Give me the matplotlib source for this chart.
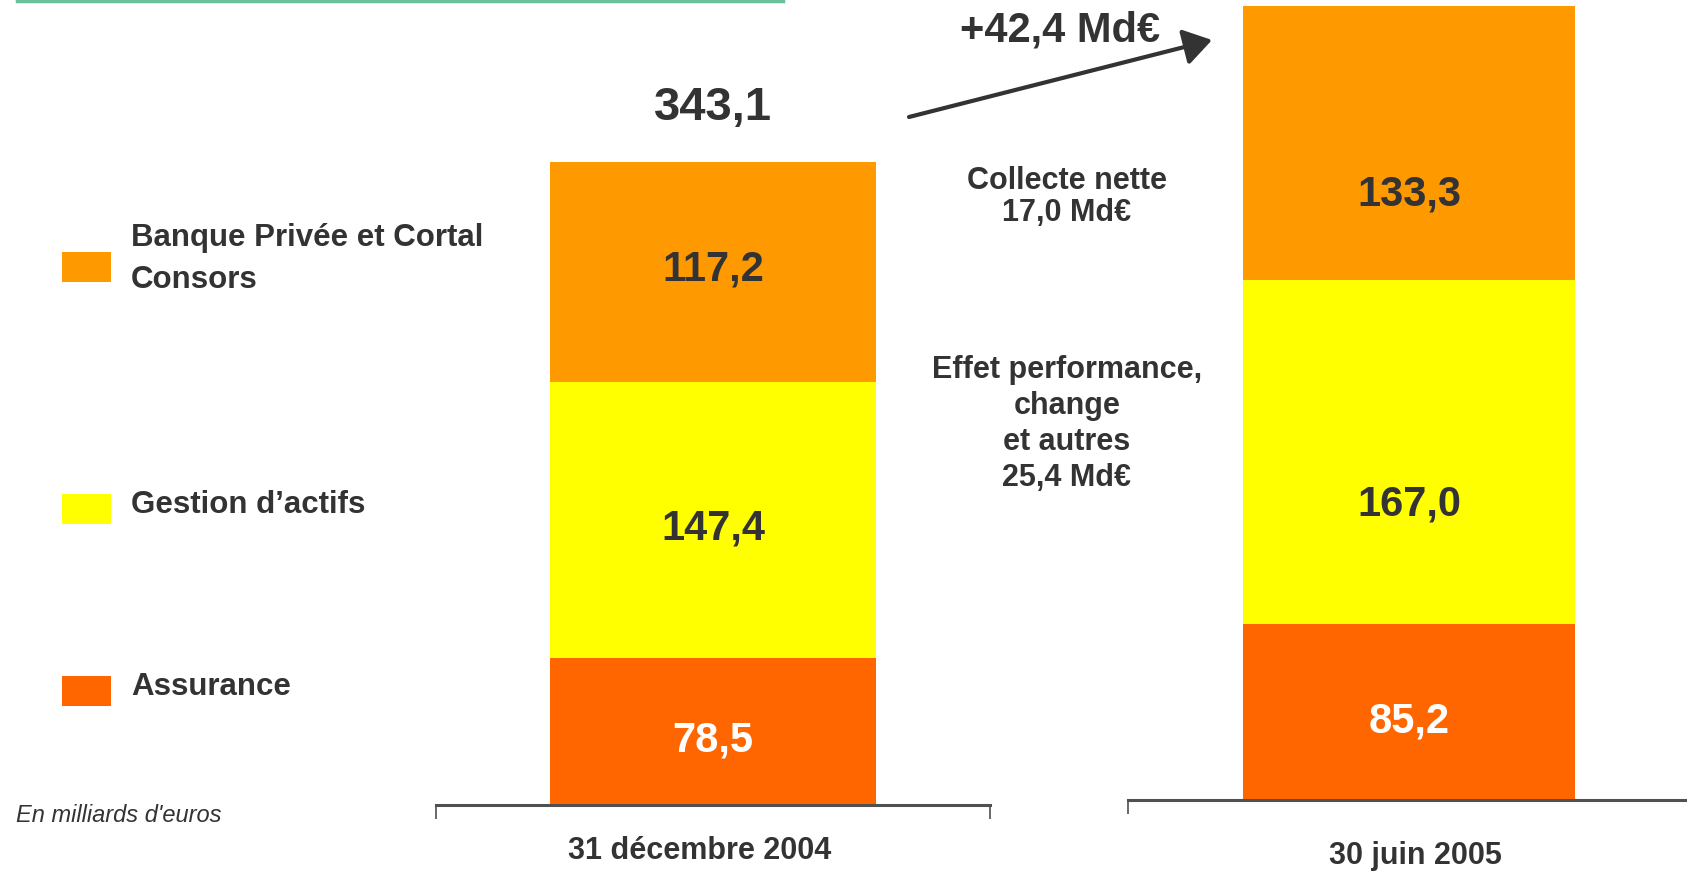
import matplotlib
matplotlib.use("Agg")
import matplotlib.pyplot as plt
from matplotlib.patches import Rectangle, FancyArrowPatch

# Donnees (en milliards d'euros)
segments = ["Assurance", "Gestion d\u2019actifs", "Banque Priv\u00e9e et Cortal\nConsors"]
colors = ["#FF6600", "#FFFF00", "#FF9900"]
dates = ["31 d\u00e9cembre 2004", "30 juin 2005"]
values_2004 = [78.5, 147.4, 117.2]
values_2005 = [85.2, 167.0, 133.3]
total_2004 = "343,1"
variation = "+42,4 Md\u20ac"
collecte = "Collecte nette\n17,0 Md\u20ac"
effet = "Effet performance,\nchange\net autres\n25,4 Md\u20ac"

W, H = 1687, 873
DARK = "#333333"
BOLD = ["Liberation Sans", "DejaVu Sans"]


def fx(x):
    return x / W


def fy(y):
    return 1 - y / H


def fmt(v):
    return f"{v:.1f}".replace(".", ",")


fig = plt.figure(figsize=(W / 100, H / 100), dpi=100)

# ligne verte en haut
fig.add_artist(plt.Line2D([fx(17), fx(783)], [fy(1), fy(1)], color="#6bbf9a", lw=2.5))


def stacked(ax, values, label_shift, date, date_dx, date_dy):
    bottom = 0
    for v, c, dy in zip(values, colors, label_shift):
        ax.bar(0, v, width=0.59, bottom=bottom, color=c, edgecolor="none")
        ax.annotate(fmt(v), (0, bottom + v / 2), xytext=(0, dy), textcoords="offset pixels",
                    ha="center", va="center", fontsize=30, fontweight="bold",
                    family=BOLD, color="white" if c == "#FF6600" else DARK)
        bottom += v
    for s in ["top", "left", "right"]:
        ax.spines[s].set_visible(False)
    ax.spines["bottom"].set_color("#505050")
    ax.spines["bottom"].set_linewidth(2.2)
    ax.set_yticks([])
    ax.tick_params(axis="x", length=10, width=1.2, color="#505050", labelbottom=False)
    ax.annotate(date, (date_dx, 0), xycoords=("data", "axes fraction"), xytext=(0, date_dy),
                textcoords="offset pixels", ha="center", va="center", fontsize=22,
                fontweight="bold", family=BOLD, color=DARK)
    return bottom


ax1 = fig.add_axes([fx(436), fy(805), fx(990 - 436), 805 / H])
ax1.set_xlim(-0.5, 0.5)
ax1.set_ylim(0, 805 / ((805 - 162) / sum(values_2004)))
ax1.set_xticks([-0.5, 0.5])
top1 = stacked(ax1, values_2004, [-9, -9, 2], dates[0], -0.025, -46)
ax1.annotate(total_2004, (0, top1), xytext=(0, 54), textcoords="offset pixels",
             ha="center", va="center", fontsize=34, fontweight="bold", family=BOLD, color=DARK)

ax2 = fig.add_axes([fx(1128), fy(800), fx(1690 - 1128), 800 / H])
ax2.set_xlim(-0.5, 0.5)
ax2.set_ylim(0, 800 / ((800 - 5.5) / sum(values_2005)))
ax2.set_xticks([-0.5])
stacked(ax2, values_2005, [-9, -52, -52], dates[1], 0.012, -56)

# legende
legend_y = [691, 509, 267]
legend_ty = [687, 505, 259]
for name, c, y, ty in zip(segments, colors, legend_y, legend_ty):
    fig.add_artist(Rectangle((fx(62), fy(y + 15)), fx(49), 30 / H, color=c, lw=0))
    fig.text(fx(131), fy(ty), name, ha="left", va="center", fontsize=22.5,
             fontweight="bold", family=BOLD, color=DARK, linespacing=1.5)

fig.text(fx(16), fy(815), "En milliards d'euros", ha="left", va="center", fontsize=17,
         style="italic", family=BOLD, color=DARK)

# variation
fig.text(fx(1060), fy(30), variation, ha="center", va="center", fontsize=30,
         fontweight="bold", family=BOLD, color=DARK)
fig.add_artist(FancyArrowPatch((fx(909), fy(117)), (fx(1212), fy(40)),
                               transform=fig.transFigure, arrowstyle="-|>,head_length=17,head_width=11",
                               mutation_scale=1, color=DARK, lw=3, shrinkA=0, shrinkB=0))

fig.text(fx(1067), fy(197), collecte, ha="center", va="center", fontsize=22,
         fontweight="bold", family=BOLD, color=DARK, linespacing=1.05)
fig.text(fx(1067), fy(424), effet, ha="center", va="center", fontsize=22,
         fontweight="bold", family=BOLD, color=DARK, linespacing=1.25)

fig.savefig("out.png", dpi=100)
